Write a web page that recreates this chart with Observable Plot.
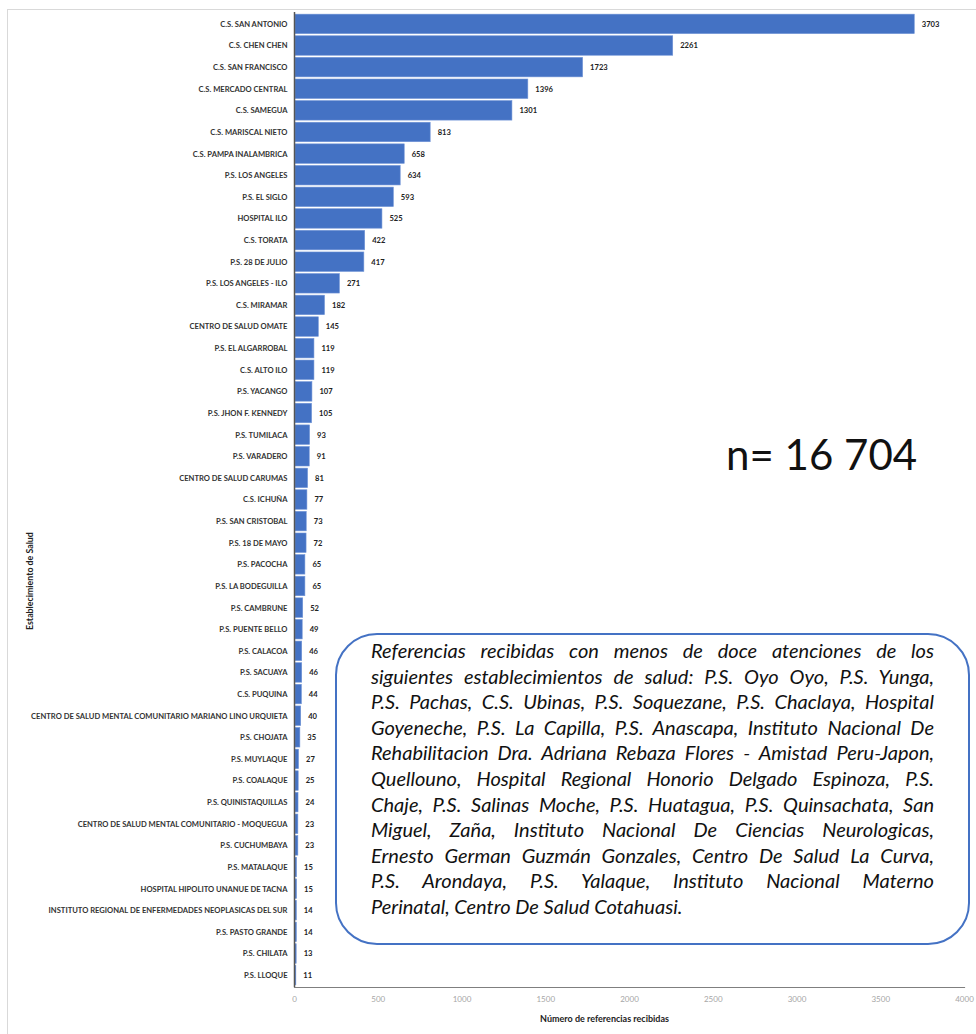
<!DOCTYPE html>
<html>
<head>
<meta charset="utf-8">
<script src="https://cdn.jsdelivr.net/npm/d3@7"></script>
<script src="https://cdn.jsdelivr.net/npm/@observablehq/plot@0.6"></script>
<style>
  html, body { margin: 0; padding: 0; background: #fff; }
  #wrap { position: relative; width: 976px; height: 1034px; overflow: hidden; font-family: Lato, "Open Sans", sans-serif; }
  #border { position: absolute; left: 7px; top: 9px; width: 980px; height: 1040px; border: 1px solid #d9d9d9; box-sizing: border-box; }
  #chart { position: absolute; left: 0; top: 0; }
  #ntext { position: absolute; left: 726px; top: 429px; font-size: 42px; color: #111; font-family: Lato, sans-serif; white-space: nowrap; }
  #note { position: absolute; left: 335px; top: 633px; width: 635px; height: 312px; box-sizing: border-box;
          border: 2px solid #4472C4; border-radius: 42px; background: #fff; padding: 3px 34px 0 34px; }
  #note div { font-style: italic; font-size: 20px; line-height: 25.6px; color: #111; text-align: justify; text-align-last: justify; white-space: nowrap; }
  #note div.last { text-align-last: left; }
</style>
</head>
<body>
<div id="wrap">
  <div id="border"></div>
  <div id="chart"></div>
  <div id="ntext"></div>
  <div id="note"></div>
</div>
<script>
const establecimientos = [
  "C.S. SAN ANTONIO", "C.S. CHEN CHEN", "C.S. SAN FRANCISCO", "C.S. MERCADO CENTRAL", "C.S. SAMEGUA",
  "C.S. MARISCAL NIETO", "C.S. PAMPA INALAMBRICA", "P.S. LOS ANGELES", "P.S. EL SIGLO", "HOSPITAL ILO",
  "C.S. TORATA", "P.S. 28 DE JULIO", "P.S. LOS ANGELES - ILO", "C.S. MIRAMAR", "CENTRO DE SALUD OMATE",
  "P.S. EL ALGARROBAL", "C.S. ALTO ILO", "P.S. YACANGO", "P.S. JHON F. KENNEDY", "P.S. TUMILACA",
  "P.S. VARADERO", "CENTRO DE SALUD CARUMAS", "C.S. ICHUÑA", "P.S. SAN CRISTOBAL", "P.S. 18 DE MAYO",
  "P.S. PACOCHA", "P.S. LA BODEGUILLA", "P.S. CAMBRUNE", "P.S. PUENTE BELLO", "P.S. CALACOA",
  "P.S. SACUAYA", "C.S. PUQUINA", "CENTRO DE SALUD MENTAL COMUNITARIO MARIANO LINO URQUIETA", "P.S. CHOJATA", "P.S. MUYLAQUE",
  "P.S. COALAQUE", "P.S. QUINISTAQUILLAS", "CENTRO DE SALUD MENTAL COMUNITARIO - MOQUEGUA", "P.S. CUCHUMBAYA", "P.S. MATALAQUE",
  "HOSPITAL HIPOLITO UNANUE DE TACNA", "INSTITUTO REGIONAL DE ENFERMEDADES NEOPLASICAS DEL SUR", "P.S. PASTO GRANDE", "P.S. CHILATA", "P.S. LLOQUE"
];
const referencias = [
  3703, 2261, 1723, 1396, 1301,
  813, 658, 634, 593, 525,
  422, 417, 271, 182, 145,
  119, 119, 107, 105, 93,
  91, 81, 77, 73, 72,
  65, 65, 52, 49, 46,
  46, 44, 40, 35, 27,
  25, 24, 23, 23, 15,
  15, 14, 14, 13, 11
];
const xTicks = [0, 500, 1000, 1500, 2000, 2500, 3000, 3500, 4000];
const xTitle = "Número de referencias recibidas";
const yTitle = "Establecimiento de Salud";
const totalText = "n= 16 704";
const noteLines = [
  "Referencias recibidas con menos de doce atenciones de los",
  "siguientes establecimientos de salud: P.S. Oyo Oyo, P.S. Yunga,",
  "P.S. Pachas, C.S. Ubinas, P.S. Soquezane, P.S. Chaclaya, Hospital",
  "Goyeneche, P.S. La Capilla, P.S. Anascapa, Instituto Nacional De",
  "Rehabilitacion Dra. Adriana Rebaza Flores - Amistad Peru-Japon,",
  "Quellouno, Hospital Regional Honorio Delgado Espinoza, P.S.",
  "Chaje, P.S. Salinas Moche, P.S. Huatagua, P.S. Quinsachata, San",
  "Miguel, Zaña, Instituto Nacional De Ciencias Neurologicas,",
  "Ernesto German Guzmán Gonzales, Centro De Salud La Curva,",
  "P.S. Arondaya, P.S. Yalaque, Instituto Nacional Materno",
  "Perinatal, Centro De Salud Cotahuasi."
];

const data = establecimientos.map((name, i) => ({name, value: referencias[i]}));

const chart = Plot.plot({
  width: 976,
  height: 1034,
  marginLeft: 294,
  marginRight: 12,
  marginTop: 12,
  marginBottom: 47,
  style: {fontFamily: "Lato, sans-serif", background: "transparent"},
  x: {domain: [0, 4000], ticks: xTicks},
  y: {domain: establecimientos, padding: 0.1, round: false},
  marks: [
    Plot.barX(data, {x: "value", y: "name", fill: "#4472C4", stroke: "#6f93d6", strokeWidth: 0.6, insetLeft: 1}),
    Plot.text(data, {x: "value", y: "name", text: d => String(d.value), textAnchor: "start", dx: 7,
      fontSize: 7.6, fontWeight: "bold", fill: "#222"}),
    Plot.axisY({tickSize: 0, tickPadding: 7, fontSize: 7.6, fontWeight: "bold", color: "#333", label: null}),
    Plot.axisX({ticks: xTicks, tickSize: 0, tickPadding: 9, fontSize: 8, color: "#a6a6a6", label: null, tickFormat: d => String(d)}),
    Plot.frame({anchor: "bottom", stroke: "#7f7f7f", strokeWidth: 1.2}),
    Plot.ruleX([0], {stroke: "#555", strokeWidth: 1.5}),
    Plot.text([xTitle], {frameAnchor: "bottom", text: d => d, dx: -25, dy: 34, fontSize: 9, fontWeight: "bold", fill: "#222"}),
    Plot.text([yTitle], {frameAnchor: "left", text: d => d, rotate: -90, dx: -264, dy: 130, fontSize: 8.8, fontWeight: "bold", fill: "#222"})
  ]
});
document.getElementById("chart").appendChild(chart);
document.getElementById("ntext").textContent = totalText;
const note = document.getElementById("note");
noteLines.forEach((line, i) => {
  const d = document.createElement("div");
  d.textContent = line;
  if (i === noteLines.length - 1) d.className = "last";
  d.style.whiteSpace = "normal";
  note.appendChild(d);
});
</script>
</body>
</html>
